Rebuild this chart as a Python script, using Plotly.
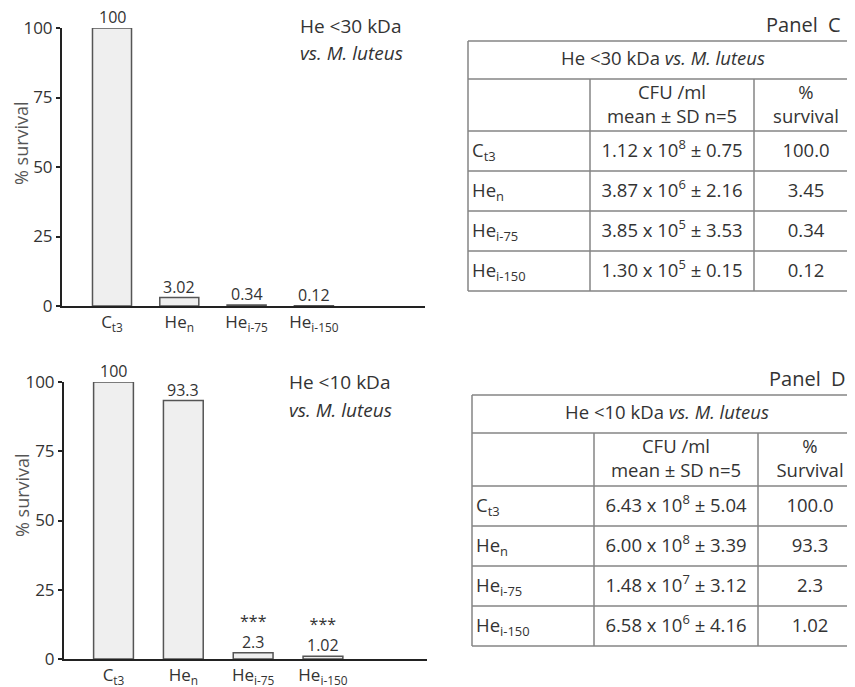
import plotly.graph_objects as go

# ---------------- data ----------------
categories = ["C<sub>t3</sub>", "He<sub>n</sub>", "He<sub>i-75</sub>", "He<sub>i-150</sub>"]

survival_30 = [100, 3.02, 0.34, 0.12]
labels_30 = ["100", "3.02", "0.34", "0.12"]

survival_10 = [100, 93.3, 2.3, 1.02]
labels_10 = ["100", "93.3", "2.3", "1.02"]
signif_10 = ["", "", "***", "***"]

cfu_mean_30 = ["1.12", "3.87", "3.85", "1.30"]
cfu_exp_30 = [8, 6, 5, 5]
cfu_sd_30 = ["0.75", "2.16", "3.53", "0.15"]
pct_30 = ["100.0", "3.45", "0.34", "0.12"]

cfu_mean_10 = ["6.43", "6.00", "1.48", "6.58"]
cfu_exp_10 = [8, 8, 7, 6]
cfu_sd_10 = ["5.04", "3.39", "3.12", "4.16"]
pct_10 = ["100.0", "93.3", "2.3", "1.02"]

yticks = [0, 25, 50, 75, 100]

# ---------------- helpers ----------------
OFF = 8                      # page body margin
W, H = 855 - OFF, 687 - OFF  # figure size
FONT = "Open Sans"
TXT = "#333333"
GRID = "#858585"
NB = "\u00a0"

def PX(x):
    return (x - OFF) / W
def PY(y):
    return 1 - (y - OFF) / H

fig = go.Figure()
ann = []
shapes = []

# ---------------- bar charts ----------------
bar_style = dict(marker=dict(color="#efefef", line=dict(color="#555555", width=1.5)),
                 showlegend=False, hoverinfo="skip")
fig.add_trace(go.Bar(x=categories, y=survival_30, xaxis="x", yaxis="y", width=0.58, **bar_style))
fig.add_trace(go.Bar(x=categories, y=survival_10, xaxis="x2", yaxis="y2", width=0.57, **bar_style))

lab_font = dict(family=FONT, size=16, color=TXT)
for c, v, t in zip(categories, survival_30, labels_30):
    ann.append(dict(x=c, y=v, xref="x", yref="y", text=t, showarrow=False, borderpad=0,
                    yanchor="bottom", yshift=-1, font=lab_font))
for c, v, t, s in zip(categories, survival_10, labels_10, signif_10):
    ann.append(dict(x=c, y=v, xref="x2", yref="y2", text=(f"{s}<br>{t}" if s else t),
                    showarrow=False, borderpad=0, yanchor="bottom", yshift=-1, font=lab_font))

# ---------------- tables (drawn on hidden axes, one unit = one pixel) ----------------
COL_W = [122, 164, 104]

def cfu_strings(m, e, s):
    return [f"{a} x 10<sup>{b}</sup> ± {c}" for a, b, c in zip(m, e, s)]

def add_table(n, left, top, row_h, title, pct_head, col1, col2, col3):
    xr, yr = f"x{n}", f"y{n}"
    tw, th = sum(COL_W), sum(row_h)
    xs = [0, COL_W[0], COL_W[0] + COL_W[1], tw]
    ys = [0]
    for h in row_h:
        ys.append(ys[-1] + h)
    fig.update_layout({
        f"xaxis{n}": dict(domain=[PX(left - 2), 1.0], range=[-2, 855 - left], visible=False,
                          anchor=yr, fixedrange=True),
        f"yaxis{n}": dict(domain=[PY(top + th + 2), PY(top - 2)], range=[th + 2, -2],
                          visible=False, anchor=xr, fixedrange=True),
    })
    ln = dict(color=GRID, width=1.5)
    for y in ys:
        shapes.append(dict(type="line", xref=xr, yref=yr, x0=0, x1=tw, y0=y, y1=y, line=ln))
    for x in (0, tw):
        shapes.append(dict(type="line", xref=xr, yref=yr, x0=x, x1=x, y0=0, y1=th, line=ln))
    for x in xs[1:3]:
        shapes.append(dict(type="line", xref=xr, yref=yr, x0=x, x1=x, y0=ys[1], y1=th, line=ln))

    cx = [(xs[i] + xs[i + 1]) / 2 for i in range(3)]
    cy = [(ys[i] + ys[i + 1]) / 2 for i in range(len(row_h))]
    tx, ty, tt, tp = [], [], [], []
    tx.append(tw / 2); ty.append(cy[0]); tt.append(title); tp.append("middle center")
    tx += [cx[1], cx[2]]; ty += [cy[1] + 1, cy[1] + 1]
    tt += ["CFU /ml<br>mean ± SD n=5", pct_head]; tp += ["middle center"] * 2
    for i in range(len(col1)):
        r = cy[2 + i] + 1
        tx += [4, cx[1], cx[2]]; ty += [r, r, r]
        tt += [col1[i], col2[i], col3[i]]
        tp += ["middle right", "middle center", "middle center"]
    fig.add_trace(go.Scatter(x=tx, y=ty, text=tt, mode="text", textposition=tp,
                             xaxis=xr, yaxis=yr, cliponaxis=False, showlegend=False,
                             hoverinfo="skip",
                             textfont=dict(family=FONT, size=18.5, color=TXT)))

add_table(3, 468, 41, [38, 52, 40, 40, 40, 40], "He <30 kDa <i>vs. M. luteus</i>",
          "%<br>survival", categories, cfu_strings(cfu_mean_30, cfu_exp_30, cfu_sd_30), pct_30)
add_table(4, 472, 395, [38, 53, 40, 40, 40, 40], "He <10 kDa <i>vs. M. luteus</i>",
          "%<br>Survival", categories, cfu_strings(cfu_mean_10, cfu_exp_10, cfu_sd_10), pct_10)

# ---------------- axes ----------------
axis_common = dict(showline=True, linecolor="#222222", linewidth=2, showgrid=False,
                   zeroline=False, automargin=False, fixedrange=True)
yax = dict(axis_common, range=[0, 100], tickvals=yticks, ticks="outside", ticklen=4,
           tickwidth=1.5, tickcolor="#222222",
           tickfont=dict(family=FONT, size=17, color=TXT))
xax = dict(axis_common, type="category", categoryarray=categories, ticks="",
           tickfont=dict(family=FONT, size=17, color=TXT))

fig.update_layout(
    width=W, height=H, autosize=False,
    margin=dict(l=0, r=0, t=0, b=0, pad=0, autoexpand=False),
    paper_bgcolor="white", plot_bgcolor="rgba(0,0,0,0)",
    xaxis=dict(xax, domain=[PX(62), PX(425)], range=[-0.743, 4.651], anchor="y"),
    yaxis=dict(yax, domain=[PY(306), PY(28)], anchor="x"),
    xaxis2=dict(xax, domain=[PX(64), PX(427)], range=[-0.709, 4.49], anchor="y2"),
    yaxis2=dict(yax, domain=[PY(659), PY(382)], anchor="x2"),
    font=dict(family=FONT, color=TXT),
    showlegend=False,
)

def A(text, x, y, size, xanchor="center", yanchor="middle", angle=0, color=TXT):
    ann.append(dict(text=text, x=PX(x), y=PY(y), xref="paper", yref="paper",
                    showarrow=False, xanchor=xanchor, yanchor=yanchor, textangle=angle,
                    font=dict(family=FONT, size=size, color=color)))

A("% survival", 21, 143, 18, angle=-90, color="#555555")
A("% survival", 22, 495, 18, angle=-90, color="#555555")
A("He <30 kDa", 298, 26, 19, xanchor="left")
A("<i>vs. M. luteus</i>", 298, 53, 19, xanchor="left")
A("He <10 kDa", 287, 382, 19, xanchor="left")
A("<i>vs. M. luteus</i>", 287, 410, 19, xanchor="left")
A("Panel" + NB + NB + "C", 843, 24, 20, xanchor="right")
A("Panel" + NB + NB + "D", 848, 379, 20, xanchor="right")
fig.update_layout(annotations=ann, shapes=shapes)

fig.write_html("out.html")
